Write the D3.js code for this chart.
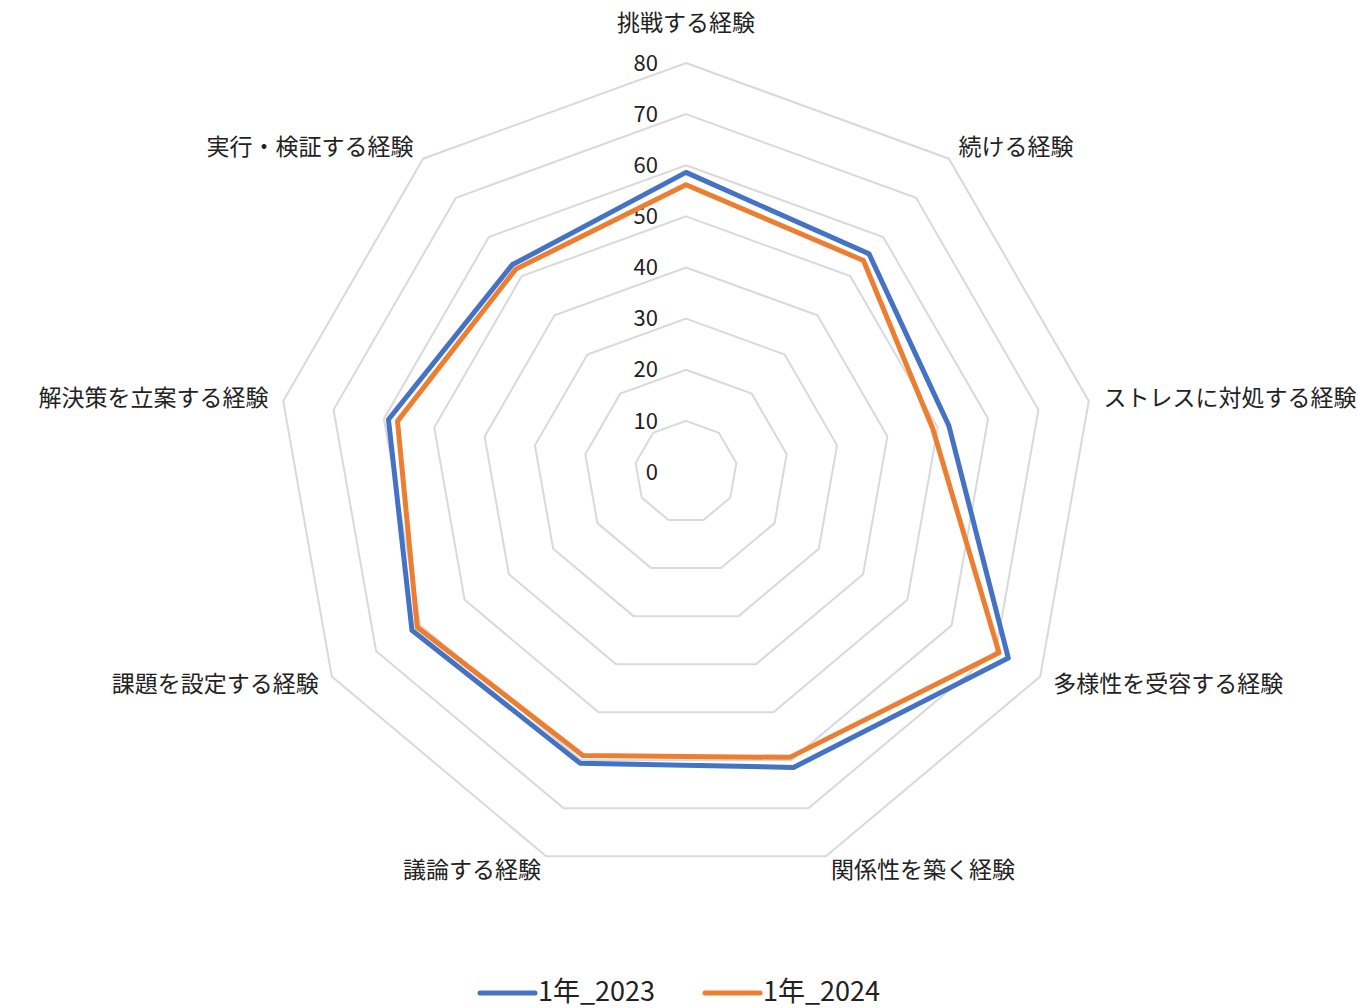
<!DOCTYPE html>
<html>
<head>
<meta charset="utf-8">
<script src="https://cdn.jsdelivr.net/npm/d3@7"></script>
<style>
  body { margin:0; background:#fff; }
  text { font-family: "Noto Sans CJK JP", "Noto Sans", sans-serif; fill:#222; }
</style>
</head>
<body>
<div id="chart"></div>
<script>
const categories = ["挑戦する経験","続ける経験","ストレスに対処する経験","多様性を受容する経験","関係性を築く経験","議論する経験","課題を設定する経験","解決策を立案する経験","実行・検証する経験"]
const series2023 = [58.6, 55.7, 52.2, 72.8, 61.5, 60.6, 61.9, 59.1, 52.9]
const series2024 = [56.2, 54.0, 49.0, 70.7, 59.4, 59.0, 60.7, 57.3, 51.8]
const seriesNames = ["1年_2023","1年_2024"]
const ticks = [0,10,20,30,40,50,60,70,80]
const colors = ["#4472c4","#ed7d31"]

const W = 1358, H = 1008
const cx = 686, cy = 472, R = 409

const svg = d3.select("#chart").append("svg").attr("width",W).attr("height",H)
let g = svg.append("g").attr("transform",`translate(${cx},${cy})`)

const rScale = d3.scaleLinear().domain([0,80]).range([0,R])
const aScale = d3.scaleLinear().domain([0,categories.length]).range([0,2*Math.PI])
const pt = (i,v) => [rScale(v)*Math.sin(aScale(i)), -rScale(v)*Math.cos(aScale(i))]

// grid rings (no spokes, like the original)
const ring = d3.line()
g.selectAll(".ring").data(ticks).enter().append("path")
  .attr("d", t => ring(categories.map((c,i)=>pt(i,t))) + "Z")
  .attr("fill","none").attr("stroke","#d9d9d9").attr("stroke-width",2)

// tick labels
g.selectAll(".tick").data(ticks).enter().append("text")
  .attr("x",-28).attr("y",d=>-rScale(d))
  .attr("dy","0.35em").attr("text-anchor","end")
  .attr("font-size",22).text(d=>d)

// series
const series = [series2023, series2024]
series.forEach((s,k)=>{
  g.append("path")
    .attr("d", ring(s.map((v,i)=>pt(i,v))) + "Z")
    .attr("fill","none").attr("stroke",colors[k]).attr("stroke-width",5)
    .attr("stroke-linejoin","round")
})

// category labels
g.selectAll(".cat").data(categories).enter().append("text")
  .attr("x",(d,i)=>pt(i,80)[0] + 15*Math.sin(aScale(i)))
  .attr("y",(d,i)=>{
    let y = pt(i,80)[1] - 15*Math.cos(aScale(i))
    if (i==0) y -= 25
    return y
  })
  .attr("dy","0.35em")
  .attr("text-anchor",(d,i)=>{
    let s = Math.sin(aScale(i))
    return Math.abs(s) < 0.01 ? "middle" : (s > 0 ? "start" : "end")
  })
  .attr("font-size",23).text(d=>d)

// legend
let legend = svg.append("g").attr("transform",`translate(480,991)`)
seriesNames.forEach((n,k)=>{
  let lg = legend.append("g").attr("transform",`translate(${k*225},0)`)
  lg.append("line").attr("x1",0).attr("x2",55).attr("y1",2).attr("y2",2)
    .attr("stroke",colors[k]).attr("stroke-width",5).attr("stroke-linecap","round")
  lg.append("text").attr("x",58).attr("y",0).attr("dy","0.36em")
    .attr("font-size",27).text(n)
})
</script>
</body>
</html>
